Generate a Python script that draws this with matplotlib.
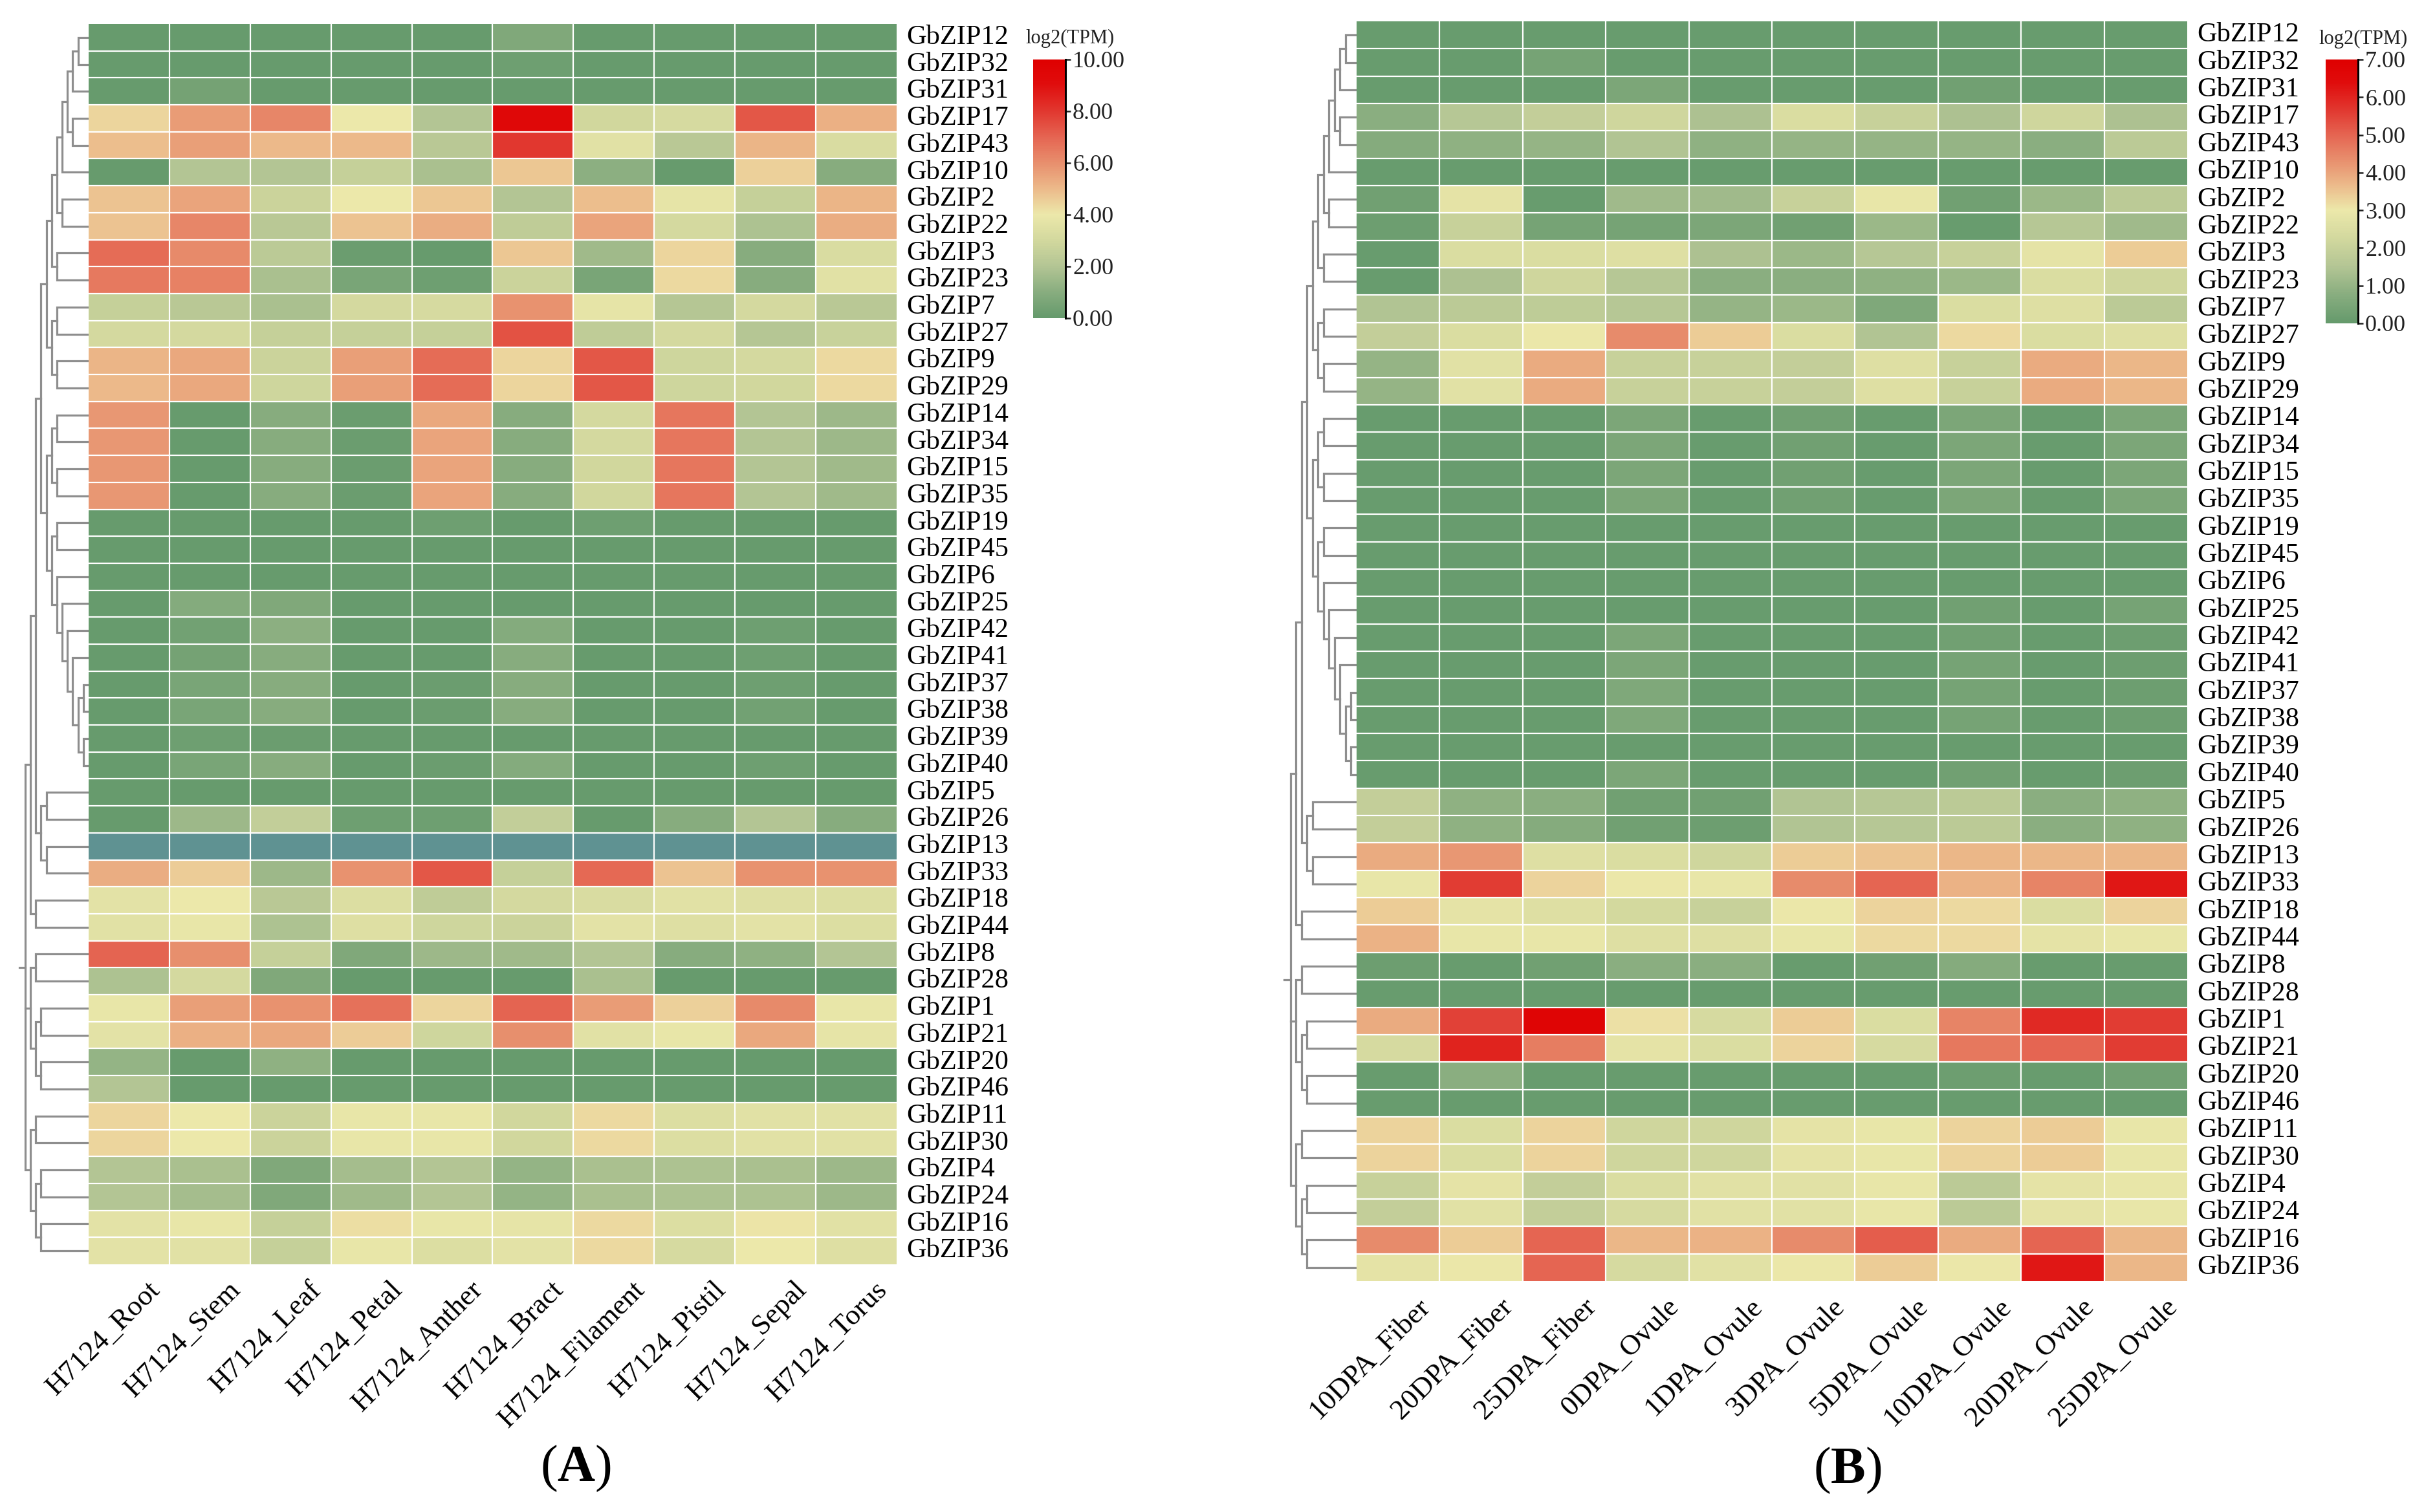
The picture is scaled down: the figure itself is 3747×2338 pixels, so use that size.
import numpy as np
import matplotlib
matplotlib.use('Agg')
import matplotlib.pyplot as plt
from matplotlib.colors import LinearSegmentedColormap

plt.rcParams['font.family'] = ['Liberation Serif', 'DejaVu Serif']
plt.rcParams['mathtext.fontset'] = 'custom'
plt.rcParams['mathtext.rm'] = 'Liberation Serif'
plt.rcParams['mathtext.bf'] = 'Liberation Serif:bold'

# ---- data ----
genes = ['GbZIP12', 'GbZIP32', 'GbZIP31', 'GbZIP17', 'GbZIP43', 'GbZIP10', 'GbZIP2', 'GbZIP22',
         'GbZIP3', 'GbZIP23', 'GbZIP7', 'GbZIP27', 'GbZIP9', 'GbZIP29', 'GbZIP14', 'GbZIP34',
         'GbZIP15', 'GbZIP35', 'GbZIP19', 'GbZIP45', 'GbZIP6', 'GbZIP25', 'GbZIP42', 'GbZIP41',
         'GbZIP37', 'GbZIP38', 'GbZIP39', 'GbZIP40', 'GbZIP5', 'GbZIP26', 'GbZIP13', 'GbZIP33',
         'GbZIP18', 'GbZIP44', 'GbZIP8', 'GbZIP28', 'GbZIP1', 'GbZIP21', 'GbZIP20', 'GbZIP46',
         'GbZIP11', 'GbZIP30', 'GbZIP4', 'GbZIP24', 'GbZIP16', 'GbZIP36']

tissues = ['H7124_Root', 'H7124_Stem', 'H7124_Leaf', 'H7124_Petal', 'H7124_Anther',
           'H7124_Bract', 'H7124_Filament', 'H7124_Pistil', 'H7124_Sepal', 'H7124_Torus']

stages = ['10DPA_Fiber', '20DPA_Fiber', '25DPA_Fiber', '0DPA_Ovule', '1DPA_Ovule',
          '3DPA_Ovule', '5DPA_Ovule', '10DPA_Ovule', '20DPA_Ovule', '25DPA_Ovule']

nan = np.nan
# log2(TPM), tissues of H7124 (GbZIP13 has no value -> drawn in the "bad" colour)
tpm_tissue = np.array([
    [0.1, 0.1, 0.1, 0.1, 0.1, 0.8, 0.1, 0.1, 0.1, 0.1],
    [0.1, 0.1, 0.1, 0.1, 0.1, 0.3, 0.1, 0.1, 0.1, 0.1],
    [0.1, 0.5, 0.1, 0.1, 0.1, 0.1, 0.1, 0.1, 0.1, 0.1],
    [4.4, 5.7, 6.2, 4.0, 2.0, 9.3, 3.0, 3.2, 7.3, 5.2],
    [4.9, 5.6, 5.0, 5.0, 2.2, 8.0, 3.6, 2.2, 5.1, 3.3],
    [0.1, 2.0, 2.0, 2.6, 1.8, 4.7, 1.1, 0.1, 4.5, 1.0],
    [4.8, 5.5, 2.8, 4.0, 4.7, 2.0, 4.9, 3.8, 2.6, 5.1],
    [4.8, 6.2, 2.2, 4.8, 5.3, 2.4, 5.5, 3.1, 1.9, 5.3],
    [6.8, 6.1, 2.3, 0.2, 0.1, 4.7, 1.6, 4.4, 1.0, 3.3],
    [6.5, 6.3, 1.8, 0.6, 0.3, 2.8, 0.6, 4.3, 1.0, 3.6],
    [2.6, 2.2, 1.8, 3.1, 3.2, 5.9, 3.8, 2.1, 3.1, 2.2],
    [3.1, 3.1, 2.6, 2.6, 2.6, 7.4, 2.4, 3.1, 2.1, 2.7],
    [5.1, 5.4, 2.8, 5.6, 6.8, 4.4, 7.3, 2.9, 3.1, 4.3],
    [5.0, 5.4, 2.9, 5.6, 6.8, 4.4, 7.3, 2.9, 3.0, 4.3],
    [5.8, 0.1, 1.0, 0.2, 5.4, 1.0, 3.1, 6.6, 2.0, 1.5],
    [5.8, 0.1, 1.0, 0.2, 5.5, 1.0, 3.1, 6.6, 2.0, 1.5],
    [5.8, 0.1, 1.0, 0.2, 5.5, 1.0, 3.0, 6.6, 2.0, 1.6],
    [5.8, 0.1, 1.0, 0.2, 5.5, 1.0, 3.0, 6.6, 2.0, 1.6],
    [0.1, 0.1, 0.1, 0.1, 0.3, 0.1, 0.3, 0.1, 0.1, 0.1],
    [0.1, 0.1, 0.1, 0.1, 0.1, 0.1, 0.1, 0.1, 0.1, 0.1],
    [0.1, 0.1, 0.1, 0.1, 0.1, 0.1, 0.1, 0.1, 0.1, 0.1],
    [0.1, 0.9, 0.8, 0.1, 0.1, 0.1, 0.1, 0.1, 0.1, 0.1],
    [0.1, 0.4, 1.1, 0.1, 0.1, 0.9, 0.1, 0.1, 0.3, 0.1],
    [0.1, 0.5, 1.0, 0.1, 0.1, 1.0, 0.1, 0.1, 0.3, 0.1],
    [0.1, 0.6, 1.0, 0.1, 0.2, 1.0, 0.1, 0.1, 0.3, 0.1],
    [0.1, 0.6, 1.0, 0.1, 0.2, 1.0, 0.1, 0.1, 0.4, 0.1],
    [0.1, 0.3, 0.2, 0.1, 0.1, 0.1, 0.1, 0.1, 0.1, 0.1],
    [0.1, 0.6, 1.0, 0.1, 0.2, 0.9, 0.1, 0.1, 0.3, 0.1],
    [0.1, 0.1, 0.1, 0.1, 0.1, 0.1, 0.1, 0.1, 0.1, 0.1],
    [0.1, 1.5, 2.5, 0.3, 0.3, 2.5, 0.1, 1.0, 2.0, 1.0],
    [nan, nan, nan, nan, nan, nan, nan, nan, nan, nan],
    [5.3, 4.6, 1.5, 5.9, 7.3, 2.6, 6.9, 4.8, 5.9, 5.9],
    [3.7, 4.0, 2.2, 3.4, 2.4, 3.1, 3.3, 3.6, 3.5, 3.4],
    [3.6, 3.9, 1.9, 3.5, 2.9, 2.8, 3.7, 3.5, 3.7, 3.4],
    [7.0, 6.0, 2.6, 0.8, 1.5, 1.6, 2.0, 1.0, 1.2, 2.0],
    [1.9, 3.1, 0.8, 0.1, 0.1, 0.1, 1.8, 0.1, 0.1, 0.1],
    [3.9, 5.6, 5.9, 6.7, 4.4, 7.0, 5.7, 4.5, 6.1, 3.9],
    [3.7, 5.2, 5.4, 4.6, 2.9, 6.0, 3.6, 3.9, 5.4, 3.8],
    [1.3, 0.1, 1.2, 0.1, 0.1, 0.1, 0.1, 0.1, 0.1, 0.1],
    [2.0, 0.1, 0.1, 0.1, 0.1, 0.1, 0.1, 0.1, 0.1, 0.1],
    [4.4, 4.0, 2.8, 3.9, 3.9, 3.0, 4.3, 3.4, 3.6, 3.6],
    [4.4, 4.0, 2.8, 3.9, 3.9, 3.0, 4.3, 3.4, 3.6, 3.6],
    [2.0, 1.8, 0.8, 1.7, 2.0, 1.3, 1.8, 1.9, 1.8, 1.5],
    [2.0, 1.7, 0.8, 1.6, 2.0, 1.3, 1.8, 1.9, 1.9, 1.5],
    [3.7, 3.9, 2.6, 4.2, 3.9, 3.8, 4.3, 3.4, 4.1, 3.6],
    [3.7, 3.6, 2.6, 3.9, 3.4, 3.7, 4.3, 3.2, 4.0, 3.5],
])

# log2(TPM), fiber and ovule stages
tpm_stage = np.array([
    [0.1, 0.1, 0.1, 0.1, 0.1, 0.1, 0.1, 0.1, 0.1, 0.1],
    [0.1, 0.1, 0.4, 0.1, 0.1, 0.1, 0.1, 0.1, 0.1, 0.1],
    [0.1, 0.1, 0.1, 0.5, 0.1, 0.1, 0.1, 0.3, 0.1, 0.1],
    [0.8, 1.6, 1.9, 2.2, 1.4, 2.5, 2.0, 1.4, 2.2, 1.4],
    [0.7, 0.9, 1.0, 1.5, 0.9, 1.0, 1.0, 1.0, 0.8, 1.7],
    [0.1, 0.1, 0.1, 0.1, 0.1, 0.1, 0.1, 0.1, 0.1, 0.1],
    [0.3, 2.8, 0.1, 1.2, 1.2, 2.0, 2.9, 0.3, 1.1, 1.7],
    [0.2, 2.0, 0.4, 0.4, 0.5, 0.3, 1.1, 0.1, 1.6, 1.2],
    [0.1, 2.5, 2.5, 2.6, 1.4, 1.1, 1.6, 2.0, 2.8, 3.4],
    [0.1, 1.4, 2.2, 1.6, 0.8, 0.8, 0.9, 1.1, 2.5, 2.2],
    [1.5, 1.7, 1.8, 1.6, 1.0, 1.1, 0.6, 2.5, 2.6, 1.7],
    [1.9, 2.5, 3.0, 4.4, 3.4, 2.5, 1.5, 3.2, 2.5, 2.6],
    [1.0, 2.7, 3.9, 2.0, 2.0, 1.9, 2.6, 2.0, 3.9, 3.7],
    [1.0, 2.7, 3.9, 2.0, 2.0, 1.9, 2.6, 2.0, 3.9, 3.7],
    [0.1, 0.1, 0.1, 0.5, 0.1, 0.3, 0.1, 0.5, 0.1, 0.5],
    [0.1, 0.1, 0.1, 0.5, 0.1, 0.3, 0.1, 0.5, 0.1, 0.5],
    [0.1, 0.1, 0.1, 0.5, 0.1, 0.3, 0.1, 0.5, 0.1, 0.5],
    [0.1, 0.1, 0.1, 0.5, 0.1, 0.3, 0.1, 0.5, 0.1, 0.5],
    [0.1, 0.1, 0.1, 0.1, 0.1, 0.1, 0.1, 0.1, 0.1, 0.1],
    [0.1, 0.1, 0.1, 0.1, 0.1, 0.1, 0.1, 0.1, 0.1, 0.1],
    [0.1, 0.1, 0.1, 0.1, 0.1, 0.1, 0.1, 0.1, 0.1, 0.1],
    [0.1, 0.1, 0.1, 0.1, 0.1, 0.1, 0.1, 0.3, 0.1, 0.4],
    [0.1, 0.1, 0.1, 0.5, 0.1, 0.1, 0.1, 0.3, 0.1, 0.2],
    [0.1, 0.1, 0.1, 0.5, 0.1, 0.1, 0.1, 0.4, 0.1, 0.2],
    [0.1, 0.1, 0.1, 0.6, 0.1, 0.1, 0.1, 0.4, 0.1, 0.2],
    [0.1, 0.1, 0.1, 0.6, 0.1, 0.1, 0.1, 0.4, 0.1, 0.2],
    [0.1, 0.1, 0.1, 0.1, 0.1, 0.1, 0.1, 0.1, 0.1, 0.1],
    [0.1, 0.1, 0.1, 0.5, 0.1, 0.1, 0.1, 0.3, 0.1, 0.2],
    [1.9, 0.9, 0.8, 0.3, 0.3, 1.5, 1.6, 1.7, 0.8, 0.9],
    [1.9, 0.9, 0.7, 0.3, 0.2, 1.5, 1.6, 1.7, 0.8, 0.9],
    [3.9, 4.2, 2.6, 2.5, 2.2, 3.4, 3.5, 3.7, 3.7, 3.7],
    [2.9, 5.6, 3.3, 3.0, 2.9, 4.4, 5.0, 3.8, 4.5, 6.2],
    [3.4, 2.8, 2.6, 2.3, 2.0, 3.0, 3.3, 3.2, 2.5, 3.3],
    [3.8, 2.9, 2.9, 2.6, 2.6, 2.9, 3.2, 3.2, 2.8, 2.9],
    [0.2, 0.1, 0.3, 0.8, 0.8, 0.1, 0.3, 0.7, 0.1, 0.1],
    [0.1, 0.1, 0.1, 0.1, 0.1, 0.1, 0.1, 0.1, 0.1, 0.1],
    [3.9, 5.5, 6.7, 3.1, 2.4, 3.4, 2.5, 4.5, 5.9, 5.6],
    [2.4, 6.0, 4.6, 2.8, 2.5, 3.3, 2.4, 4.7, 5.0, 5.6],
    [0.1, 0.8, 0.1, 0.1, 0.1, 0.1, 0.1, 0.2, 0.1, 0.3],
    [0.1, 0.1, 0.1, 0.1, 0.1, 0.1, 0.1, 0.1, 0.1, 0.1],
    [3.3, 2.5, 3.3, 2.2, 2.2, 2.8, 2.9, 3.3, 3.4, 2.9],
    [3.3, 2.5, 3.3, 2.2, 2.2, 2.8, 2.9, 3.3, 3.4, 2.9],
    [2.0, 2.8, 1.9, 2.5, 2.7, 2.7, 2.9, 1.7, 2.8, 2.9],
    [1.9, 2.7, 1.9, 2.4, 2.7, 2.7, 2.9, 1.7, 2.8, 2.9],
    [4.4, 3.4, 5.0, 3.7, 3.8, 4.4, 5.1, 3.9, 5.0, 3.7],
    [2.8, 3.0, 5.0, 2.4, 2.7, 3.0, 3.4, 3.0, 6.2, 3.7],
])


# row clustering: (height, children...), leaves are row indices
def N(h, *kids):
    return (h, kids)


row_tree = N(12,
             N(11,
               N(10,
                 N(9,
                   N(8,
                     N(7,
                       N(6,
                         N(5, N(4, N(3, N(2, 0, 1), 2), N(3, 3, 4)), 5),
                         N(5, 6, 7)),
                       N(6, 8, 9)),
                     N(7, N(6, 10, 11), N(6, 12, 13))),
                   N(8,
                     N(7, N(6, 14, 15), N(6, 16, 17)),
                     N(7, N(6, 18, 19),
                       N(6, 20, N(5, 21, N(4, 22, N(3, 23, N(2, N(1, 24, 25), N(1, 26, 27))))))))),
                 N(9, N(8, 28, 29), N(8, 30, 31))),
               N(10, 32, 33)),
             N(11, N(10, 34, 35), N(10, N(9, 36, 37), N(9, 38, 39))),
             N(11, N(10, 40, 41), N(10, N(9, 42, 43), N(9, 44, 45))))


def make_cmap(mid):
    green = ['#659a6c', '#88ad7f', '#b3c594', '#d2d89e']
    red = [(0.17, '#ecb98a'), (0.33, '#e8906e'), (0.5, '#e56552'),
           (0.67, '#e1372f'), (0.85, '#e00c0c'), (1.0, '#df0000')]
    nodes = [(mid * k / 4, c) for k, c in enumerate(green)] + [(mid, '#ece8aa')]
    nodes += [(mid + (1 - mid) * t, c) for t, c in red]
    cm = LinearSegmentedColormap.from_list('gyr', nodes)
    cm.set_bad('#5f9292')
    return cm


def draw_tree(ax, node):
    if isinstance(node, int):
        return node + 0.5, 0.0
    h, kids = node
    pts = [draw_tree(ax, k) for k in kids]
    ys = [p[0] for p in pts]
    top, bot = pts[0], pts[-1]
    ax.plot([top[1], h, h, bot[1]], [top[0], top[0], bot[0], bot[0]],
            color='#8e8e8e', lw=2.3, solid_joinstyle='miter')
    for y, kh in pts[1:-1]:
        ax.plot([kh, h], [y, y], color='#8e8e8e', lw=2.3)
    return (min(ys) + max(ys)) / 2, h


W, H = 3748, 2338


def box(x0, y0, x1, y1):
    return [x0 / W, 1 - y1 / H, (x1 - x0) / W, (y1 - y0) / H]


fig = plt.figure(figsize=(W / 100, H / 100), dpi=100)


def panel(data, cols, vmax, mid, hbox, dbox, cbox, ticks, tag, tag_xy, title_xy):
    cm = make_cmap(mid / vmax)
    ax = fig.add_axes(box(*hbox))
    im = ax.imshow(np.ma.masked_invalid(data), cmap=cm, vmin=0, vmax=vmax,
                   aspect='auto', interpolation='nearest',
                   extent=(0, len(cols), len(genes), 0))
    for j in range(1, len(cols)):
        ax.axvline(j, color='white', lw=1.6)
    for i in range(1, len(genes)):
        ax.axhline(i, color='white', lw=1.6)
    ax.set_xlim(0, len(cols))
    ax.set_ylim(len(genes), 0)
    ax.axis('off')
    for i, g in enumerate(genes):
        ax.text(len(cols) + 0.12, i + 0.5, g, fontsize=30.5, va='center', ha='left')
    for j, c in enumerate(cols):
        ax.text(j + 0.72, len(genes) + 0.45, c, fontsize=32, rotation=45,
                ha='right', va='top', rotation_mode='anchor')

    dax = fig.add_axes(box(*dbox))
    ry, rh = draw_tree(dax, row_tree)
    dax.plot([rh, rh + 1.1], [ry, ry], color='#8e8e8e', lw=2.3)
    dax.set_xlim(13.7, 0)
    dax.set_ylim(len(genes), 0)
    dax.axis('off')

    cax = fig.add_axes(box(*cbox))
    cb = fig.colorbar(im, cax=cax, ticks=ticks, format='%.2f')
    cb.outline.set_visible(False)
    cax.plot([1, 1], [0, 1], transform=cax.transAxes, color='black', lw=2.2, clip_on=False)
    cax.tick_params(length=6, width=1.8, labelsize=26, colors='#222222', pad=2)
    fig.text(title_xy[0] / W, 1 - title_xy[1] / H, 'log2(TPM)', fontsize=22,
             ha='center', va='center', color='#222222')
    fig.text(tag_xy[0] / W, 1 - tag_xy[1] / H, r'($\mathbf{%s}$)' % tag, fontsize=58,
             ha='center', va='center')


panel(tpm_tissue, tissues, 10, 4,
      (137, 37, 1386, 1955), (25, 37, 137, 1955), (1597, 92, 1647, 492),
      [0, 2, 4, 6, 8, 10], 'A', (890, 2271), (1654, 59))
panel(tpm_stage, stages, 7, 3,
      (2097, 33, 3381, 1981), (1980, 33, 2097, 1981), (3595, 92, 3645, 500),
      [0, 1, 2, 3, 4, 5, 6, 7], 'B', (2856, 2274), (3653, 60))

fig.savefig('out.png', dpi=100)
